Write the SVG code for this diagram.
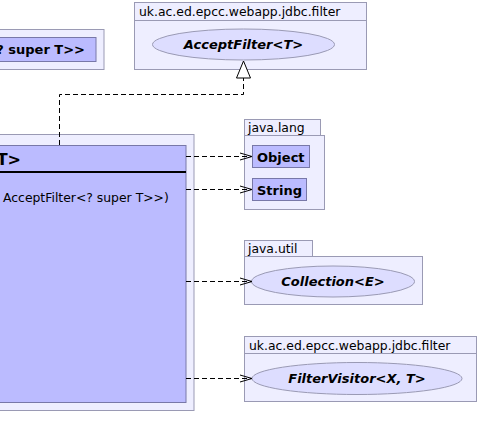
<svg xmlns="http://www.w3.org/2000/svg" width="479" height="448" viewBox="0 0 479 448">
<defs>
<style>
.pkg{fill:#eeeeff;stroke:#9a9ab4;stroke-width:1}
.cls{fill:#bbbbff;stroke:#7878a8;stroke-width:1}
.ell{fill:#ddddff;stroke:#9a9ab4;stroke-width:1}
.lbl{font-family:"DejaVu Sans",sans-serif;font-size:12.4px;fill:#000}
.b{font-weight:bold;font-size:13px}
.i{font-style:italic}
.dash{fill:none;stroke:#000;stroke-width:1;stroke-dasharray:5,3}
.arr{fill:none;stroke:#000;stroke-width:1}
</style>
</defs>
<rect width="479" height="448" fill="#fff"/>
<g id="node-superT">
<rect class="pkg" x="-10" y="29.5" width="114" height="40"/>
<rect class="cls" x="-10" y="37.5" width="106" height="24"/>
<text class="lbl b" x="85" y="54" text-anchor="end">? super T&gt;&gt;</text>
</g>
<g id="node-acceptfilter">
<rect class="pkg" x="134.5" y="2.5" width="232" height="18"/>
<rect class="pkg" x="134.5" y="20.5" width="232" height="49"/>
<text class="lbl" x="139" y="16">uk.ac.ed.epcc.webapp.jdbc.filter</text>
<ellipse class="ell" cx="243.5" cy="44.5" rx="91" ry="15.5"/>
<text class="lbl b i" x="243.5" y="49" text-anchor="middle">AcceptFilter&lt;T&gt;</text>
</g>
<g id="node-main">
<rect class="pkg" x="-10" y="134.5" width="204" height="276"/>
<rect class="cls" x="-10" y="145.5" width="196" height="257"/>
<line x1="-10" y1="172" x2="186" y2="172" stroke="#000" stroke-width="2"/>
<text class="lbl b" x="21" y="165" text-anchor="end" style="font-size:16px">T&gt;</text>
<text class="lbl" x="3" y="202">AcceptFilter&lt;? super T&gt;&gt;)</text>
</g>
<g id="node-javalang">
<rect class="pkg" x="244.5" y="119.5" width="76" height="16"/>
<rect class="pkg" x="244.5" y="135.5" width="80" height="74"/>
<text class="lbl" x="248" y="132">java.lang</text>
<rect class="cls" x="252.5" y="145.5" width="57" height="22"/>
<text class="lbl b" x="257" y="161.5">Object</text>
<rect class="cls" x="252.5" y="178.5" width="54" height="22"/>
<text class="lbl b" x="257" y="194.5">String</text>
</g>
<g id="node-javautil">
<rect class="pkg" x="244.5" y="240.5" width="68" height="16"/>
<rect class="pkg" x="244.5" y="256.5" width="178" height="48"/>
<text class="lbl" x="248" y="253">java.util</text>
<ellipse class="ell" cx="333" cy="281.5" rx="81.5" ry="15.5"/>
<text class="lbl b i" x="333" y="286" text-anchor="middle">Collection&lt;E&gt;</text>
</g>
<g id="node-filtervisitor">
<rect class="pkg" x="244.5" y="336.5" width="232" height="17"/>
<rect class="pkg" x="244.5" y="353.5" width="232" height="48"/>
<text class="lbl" x="249" y="349.5">uk.ac.ed.epcc.webapp.jdbc.filter</text>
<ellipse class="ell" cx="357" cy="378.5" rx="105" ry="16"/>
<text class="lbl b i" x="357" y="383" text-anchor="middle">FilterVisitor&lt;X, T&gt;</text>
</g>
<g id="connectors">
<polyline class="dash" points="59.5,145 59.5,94.5 243.5,94.5 243.5,78"/>
<polygon points="243.5,61 236.5,78 250.5,78" fill="#fff" stroke="#000" stroke-width="1"/>
<line class="dash" x1="186" y1="156.5" x2="251" y2="156.5"/>
<polyline class="arr" points="240,153 252,156.5 240,160"/>
<line class="dash" x1="186" y1="189.5" x2="251" y2="189.5"/>
<polyline class="arr" points="240,186 252,189.5 240,193"/>
<line class="dash" x1="186" y1="281.5" x2="251" y2="281.5"/>
<polyline class="arr" points="240,278 252,281.5 240,285"/>
<line class="dash" x1="186" y1="378.5" x2="251" y2="378.5"/>
<polyline class="arr" points="240,375 252,378.5 240,382"/>
</g>
</svg>
